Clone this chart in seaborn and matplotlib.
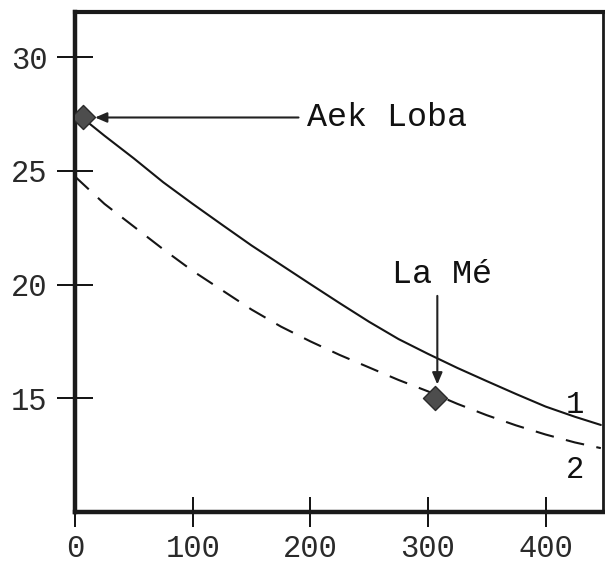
import pandas as pd
import seaborn as sns
import matplotlib.pyplot as plt

# Curve data
dist = [7, 25, 50, 75, 100, 125, 150, 175, 200, 225, 250, 275, 300, 325, 350, 375, 400, 425, 447]
curve1 = [27.3, 26.55, 25.55, 24.5, 23.55, 22.63, 21.72, 20.87, 20.02, 19.18,
          18.36, 17.6, 16.95, 16.33, 15.75, 15.18, 14.63, 14.18, 13.82]
dist2 = [0, 25, 50, 75, 100, 125, 150, 175, 200, 225, 250, 275, 300, 325, 350, 375, 400, 425, 447]
curve2 = [24.75, 23.55, 22.55, 21.55, 20.6, 19.75, 18.9, 18.15, 17.5, 16.9,
          16.35, 15.8, 15.3, 14.75, 14.25, 13.8, 13.4, 13.05, 12.8]

# Sites
site_names = ['Aek Loba', 'La Mé']
site_x = [7, 306]
site_y = [27.35, 15.0]

xticks = [0, 100, 200, 300, 400]
yticks = [15, 20, 25, 30]

sns.set_style('white')
plt.rcParams['font.family'] = ['Liberation Mono', 'DejaVu Sans Mono']

fig = plt.figure(figsize=(6.05, 5.63), dpi=100)
ax = fig.add_axes([0.124, 0.091, 0.873, 0.888])

df1 = pd.DataFrame({'x': dist, 'y': curve1})
df2 = pd.DataFrame({'x': dist2, 'y': curve2})
sns.lineplot(data=df1, x='x', y='y', ax=ax, color='#151515', lw=1.5)
sns.lineplot(data=df2, x='x', y='y', ax=ax, color='#151515', lw=1.5,
             dashes=False, linestyle=(0, (9, 6)))

sites = pd.DataFrame({'x': site_x, 'y': site_y, 'name': site_names})
sns.scatterplot(data=sites, x='x', y='y', ax=ax, marker='D', s=150,
                color='#4d4d4d', edgecolor='#2a2a2a', linewidth=1, zorder=5)

# Aek Loba annotation
ax.annotate('', xy=(site_x[0] + 10, site_y[0]), xytext=(190, site_y[0]),
            arrowprops=dict(arrowstyle='-|>,head_length=0.7,head_width=0.3',
                            color='#222222', lw=1.5, shrinkA=0, shrinkB=0))
ax.text(197, site_y[0], site_names[0], fontsize=24, ha='left', va='center',
        color='#111111')

# La Mé annotation
ax.annotate('', xy=(site_x[1] + 2, site_y[1] + 0.6), xytext=(site_x[1] + 2, 19.5),
            arrowprops=dict(arrowstyle='-|>,head_length=0.7,head_width=0.3',
                            color='#222222', lw=1.5, shrinkA=0, shrinkB=0))
ax.text(site_x[1] + 6, 20.45, site_names[1], fontsize=24, ha='center',
        va='center', color='#111111')

# curve numbers
ax.text(dist[-1] - 22, curve1[-1] + 0.9, '1', fontsize=22, ha='center',
        va='center', color='#111111')
ax.text(dist2[-1] - 22, curve2[-1] - 0.95, '2', fontsize=22, ha='center',
        va='center', color='#111111')

ax.set_xlim(0, 449)
ax.set_ylim(10, 32)
ax.set_xticks(xticks)
ax.set_yticks(yticks)
ax.set_xlabel('')
ax.set_ylabel('')
ax.tick_params(axis='both', direction='inout', width=1.4, color='#111111',
               labelsize=22, labelcolor='#2a2a2a', left=True, bottom=True)
ax.tick_params(axis='y', length=26, pad=7)
ax.tick_params(axis='x', length=22, pad=5)

for side, w in [('left', 3.2), ('bottom', 3.2), ('top', 3.0), ('right', 2.0)]:
    ax.spines[side].set_visible(True)
    ax.spines[side].set_linewidth(w)
    ax.spines[side].set_color('#1a1a1a')

fig.savefig('out.png', dpi=100)
